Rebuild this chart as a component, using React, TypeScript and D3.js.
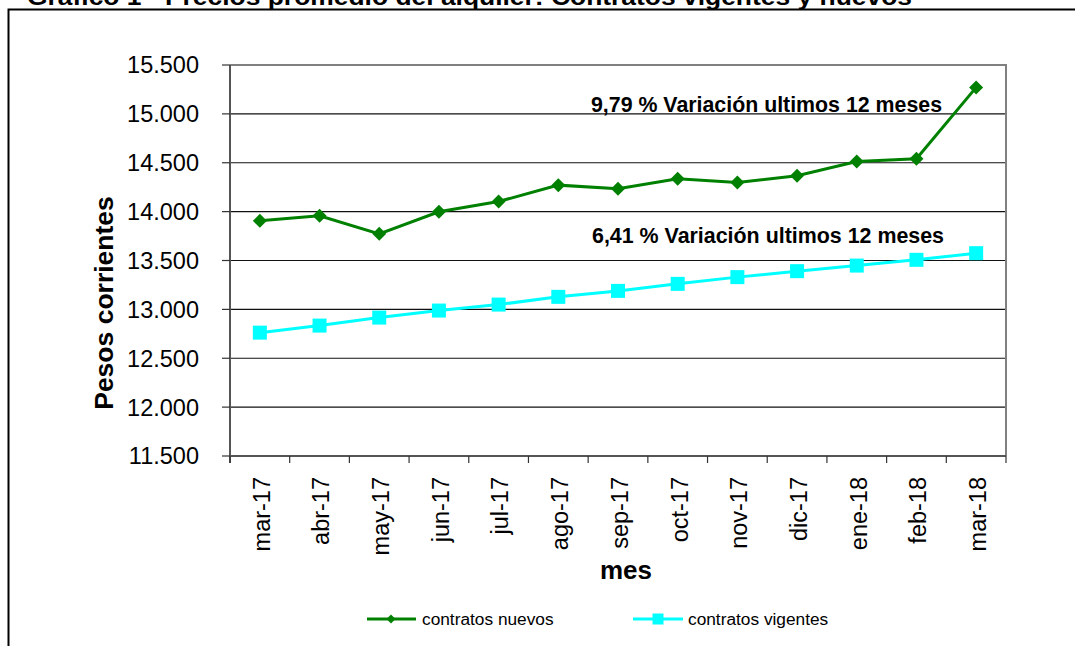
import React from "react";
import * as d3 from "d3";

// Precios promedio del alquiler (pesos corrientes)
const months = [
  "mar-17", "abr-17", "may-17", "jun-17", "jul-17", "ago-17", "sep-17",
  "oct-17", "nov-17", "dic-17", "ene-18", "feb-18", "mar-18",
];
const nuevos = [
  13906, 13957, 13773, 13998, 14103, 14271, 14233,
  14336, 14298, 14367, 14513, 14541, 15271,
];
const vigentes = [
  12762, 12834, 12916, 12988, 13049, 13128, 13189,
  13261, 13330, 13391, 13448, 13507, 13575,
];
const yTicks = [11500, 12000, 12500, 13000, 13500, 14000, 14500, 15000, 15500];

const GREEN = "#008000";
const CYAN = "#00FFFF";
const FONT = "'Liberation Sans', Arial, sans-serif";

const esLocale = d3.formatLocale({
  decimal: ",",
  thousands: ".",
  grouping: [3],
  currency: ["$", ""],
});
const fmt = esLocale.format(",.0f");

export default function App() {
  const W = 1075;
  const H = 646;
  const plot = { left: 230, right: 1006, top: 65, bottom: 456 };

  const x = d3.scaleBand().domain(months).range([plot.left, plot.right]);
  const y = d3.scaleLinear().domain([11500, 15500]).range([plot.bottom, plot.top]);
  const cx = (m: string) => (x(m) ?? 0) + x.bandwidth() / 2;

  const line = d3
    .line<number>()
    .x((_, i) => cx(months[i]))
    .y((d) => y(d));

  const diamond = d3.symbol(d3.symbolSquare, 98)();
  const square = d3.symbol(d3.symbolSquare, 196)();
  const diamondSmall = d3.symbol(d3.symbolSquare, 40)();
  const squareSmall = d3.symbol(d3.symbolSquare, 121)();

  const boundaries = d3.range(months.length + 1).map(
    (i) => plot.left + i * x.step()
  );

  return (
    <svg
      width={W}
      height={H}
      style={{ position: "absolute", left: 0, top: 0, background: "#fff" }}
      fontFamily={FONT}
    >
      {/* title, cut off at the top of the image */}
      <text x={27} y={4.5} fontSize={24} fontWeight="bold" textLength={885}
        lengthAdjust="spacingAndGlyphs" fill="#000">
        Gráfico 1 - Precios promedio del alquiler: Contratos vigentes y nuevos
      </text>

      {/* outer frame (runs off the right and bottom edges) */}
      <path d={`M8.5,${H + 5} V9.5 H${W + 5}`} fill="none" stroke="#000" strokeWidth={2} />

      {/* gridlines */}
      {yTicks.slice(1, -1).map((t) => (
        <line key={t} x1={plot.left} x2={plot.right} y1={y(t)} y2={y(t)}
          stroke="#111" strokeWidth={1.1} />
      ))}

      {/* plot border top / right */}
      <path d={`M${plot.left},${plot.top} H${plot.right} V${plot.bottom}`}
        fill="none" stroke="#808080" strokeWidth={2} />

      {/* axes */}
      <line x1={plot.left} x2={plot.left} y1={plot.top} y2={plot.bottom + 7}
        stroke="#555" strokeWidth={2} />
      <line x1={plot.left} x2={plot.right} y1={plot.bottom} y2={plot.bottom}
        stroke="#555" strokeWidth={2} />
      {yTicks.map((t) => (
        <g key={t}>
          <line x1={plot.left - 8} x2={plot.left} y1={y(t)} y2={y(t)}
            stroke="#333" strokeWidth={1.2} />
          <text x={199} y={y(t)} dy="0.36em" textAnchor="end" fontSize={23.5} fill="#000">
            {fmt(t)}
          </text>
        </g>
      ))}
      {boundaries.map((bx, i) => (
        <line key={i} x1={bx} x2={bx} y1={plot.bottom} y2={plot.bottom + 7}
          stroke="#333" strokeWidth={1.2} />
      ))}
      {months.map((m) => (
        <text key={m} transform={`translate(${cx(m)},477) rotate(-90)`}
          dy="0.42em" textAnchor="end" fontSize={23.5} fill="#000">
          {m}
        </text>
      ))}

      {/* axis titles */}
      <text transform="translate(113,303) rotate(-90)" textAnchor="middle"
        fontSize={26.5} fontWeight="bold" fill="#000">
        Pesos corrientes
      </text>
      <text x={626} y={579} textAnchor="middle" fontSize={26} fontWeight="bold" fill="#000">
        mes
      </text>

      {/* series */}
      <path d={line(vigentes) ?? ""} fill="none" stroke={CYAN} strokeWidth={3} />
      {vigentes.map((v, i) => (
        <path key={i} d={square ?? ""} transform={`translate(${cx(months[i])},${y(v)})`}
          fill={CYAN} />
      ))}
      <path d={line(nuevos) ?? ""} fill="none" stroke={GREEN} strokeWidth={3} />
      {nuevos.map((v, i) => (
        <path key={i} d={diamond ?? ""}
          transform={`translate(${cx(months[i])},${y(v)}) rotate(45)`} fill={GREEN} />
      ))}

      {/* annotations */}
      <text x={591} y={112} fontSize={21.3} fontWeight="bold" fill="#000"
        textLength={351} lengthAdjust="spacingAndGlyphs">
        9,79 % Variación ultimos 12 meses
      </text>
      <text x={592} y={243} fontSize={21.3} fontWeight="bold" fill="#000"
        textLength={352} lengthAdjust="spacingAndGlyphs">
        6,41 % Variación ultimos 12 meses
      </text>

      {/* legend */}
      <g>
        <line x1={367} x2={416} y1={619} y2={619} stroke={GREEN} strokeWidth={3} />
        <path d={diamondSmall ?? ""} transform="translate(391,619) rotate(45)" fill={GREEN} />
        <text x={422} y={619} dy="0.36em" fontSize={17.3} fill="#000">contratos nuevos</text>
        <line x1={633} x2={683} y1={619} y2={619} stroke={CYAN} strokeWidth={3} />
        <path d={squareSmall ?? ""} transform="translate(658,619)" fill={CYAN} />
        <text x={688} y={619} dy="0.36em" fontSize={17.3} fill="#000">contratos vigentes</text>
      </g>
    </svg>
  );
}
